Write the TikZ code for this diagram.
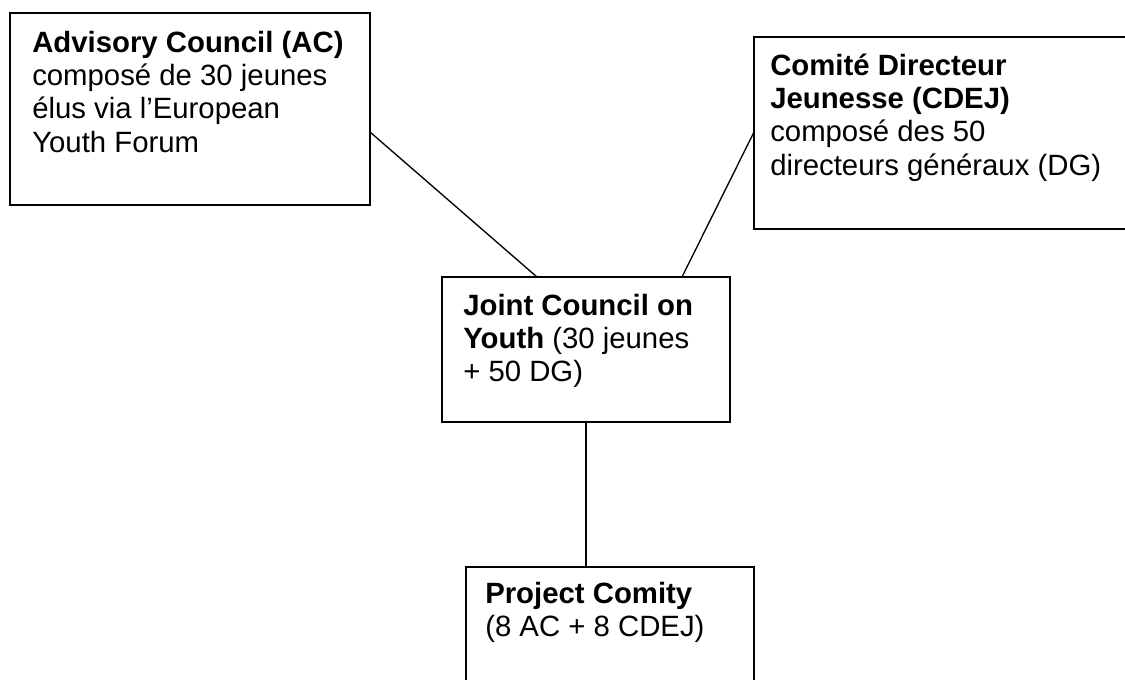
\documentclass[tikz,border=0pt]{standalone}
\usepackage{fontspec}
\setmainfont{Liberation Sans}
\begin{document}
\begin{tikzpicture}[x=0.75pt,y=-0.75pt,
  box/.style={draw=black,line width=1.1pt,rectangle,inner sep=0pt,outer sep=0pt},
  txt/.style={anchor=base west,inner sep=0pt,font=\fontsize{22}{25.1}\selectfont},
  link/.style={draw=black,line width=1pt}]
\clip (0,0) rectangle (1125,679);
\fill[white] (0,0) rectangle (1125,679);
% boxes
\node[box,minimum width=270pt,minimum height=144pt] (ac) at (190,109) {};
\node[box,minimum width=285.75pt,minimum height=144pt] (cdej) at (944.5,133) {};
\node[box,minimum width=216pt,minimum height=108.75pt] (jc) at (586,349.5) {};
\node[box,minimum width=216pt,minimum height=92.25pt] (pc) at (610,628.5) {};
% texts
\node[txt] (acT) at (32,52) {\vtop{\hbox{\textbf{Advisory Council (AC)}}\hbox{composé de 30 jeunes}\hbox{élus via l’European}\hbox{Youth Forum}}};
\node[txt] (cdejT) at (770,75) {\vtop{\hbox{\textbf{Comité Directeur}}\hbox{\textbf{Jeunesse (CDEJ)}}\hbox{composé des 50}\hbox{directeurs généraux (DG)}}};
\node[txt] (jcT) at (463,315) {\vtop{\hbox{\textbf{Joint Council on}}\hbox{\textbf{Youth} (30 jeunes}\hbox{+ 50 DG)}}};
\node[txt] (pcT) at (485,603) {\vtop{\hbox{\textbf{Project Comity}}\hbox{(8 AC + 8 CDEJ)}}};
% connectors
\draw[link] ([yshift=-17.25pt]ac.east) -- ([xshift=-36.75pt]jc.north);
\draw[link] ([yshift=0.75pt]cdej.west) -- ([xshift=72pt]jc.north);
\draw[link] (jc.south) -- (jc.south |- pc.north);
\end{tikzpicture}
\end{document}
